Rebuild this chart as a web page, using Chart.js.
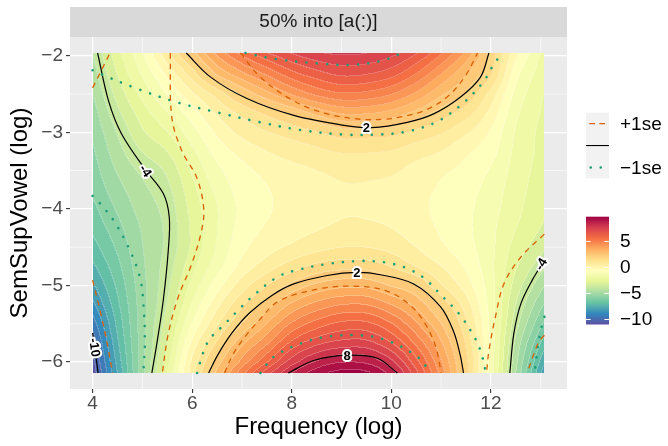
<!DOCTYPE html>
<html lang="en">
<head>
<meta charset="UTF-8">
<title>50% into [a(:)]</title>
<script src="https://cdn.jsdelivr.net/npm/chart.js@4.4.1/dist/chart.umd.min.js"></script>
<style>
  html, body { margin: 0; padding: 0; background: #fff; }
  #wrap { width: 668px; height: 446px; }
</style>
</head>
<body>
<div id="wrap"><canvas id="myChart" width="668" height="446"></canvas></div>
<script>
// ---- values ----
const xTicks = [4, 6, 8, 10, 12];
const yTicks = [-6, -5, -4, -3, -2];
const xMinor = [5, 7, 9, 11, 13];
const yMinor = [-5.5, -4.5, -3.5, -2.5];
const fillTicks = [5, 0, -5, -10];
const fillRange = [-11.06, 9.6];

// estimate surface, sampled on a grid (rows top -> bottom)
const gridX = [4, 4.5, 5, 5.5, 6, 6.5, 7, 7.5, 8, 8.5, 9, 9.5, 10, 10.5, 11, 11.5, 12, 12.5, 13.07];
const gridY = [-1.96, -2.25, -2.5, -2.75, -3, -3.25, -3.5, -3.75, -4, -4.25, -4.5, -4.75, -5, -5.25, -5.5, -5.75, -6, -6.14];
const zGrid = [
  [-4.3, -2.6, -1.2, 0.6, 2.4, 4.0, 5.3, 6.3, 7.0, 7.5, 7.7, 7.6, 7.2, 6.4, 5.2, 3.7, 1.8, -0.3, -2.0],
  [-4.6, -3.0, -1.7, -0.4, 1.0, 2.6, 3.6, 4.5, 5.4, 6.0, 6.4, 6.3, 5.9, 5.0, 3.8, 2.6, 1.4, -0.9, -2.2],
  [-4.9, -3.4, -2.2, -1.1, 0.0, 1.0, 2.1, 3.0, 3.9, 4.6, 5.0, 4.9, 4.5, 3.7, 2.7, 1.9, 0.5, -1.3, -2.4],
  [-5.2, -3.8, -2.7, -1.8, -0.8, 0.2, 0.9, 1.5, 2.1, 2.8, 3.3, 3.3, 3.0, 2.4, 1.7, 1.0, -0.1, -1.6, -2.5],
  [-5.4, -4.2, -3.1, -2.4, -1.4, -0.4, 0.3, 0.7, 1.0, 1.3, 1.7, 1.7, 1.6, 1.2, 0.8, 0.2, -0.6, -1.8, -2.6],
  [-5.6, -4.5, -3.6, -3.0, -1.9, -0.9, -0.3, 0.1, 0.4, 0.6, 0.8, 0.8, 0.7, 0.4, 0.1, -0.4, -0.9, -1.9, -2.6],
  [-5.8, -4.8, -4.1, -3.5, -2.3, -1.3, -0.7, -0.35, -0.1, 0.1, 0.25, 0.25, 0.2, -0.1, -0.4, -0.7, -1.2, -2.0, -2.7],
  [-6.0, -5.1, -4.4, -3.8, -2.6, -1.6, -0.9, -0.55, -0.3, -0.1, 0.05, 0.05, -0.05, -0.3, -0.6, -0.9, -1.4, -2.1, -2.8],
  [-6.3, -5.4, -4.6, -4.0, -2.8, -1.8, -1.0, -0.6, -0.3, -0.1, 0.05, 0.05, -0.05, -0.3, -0.7, -1.0, -1.5, -2.2, -2.9],
  [-6.6, -5.7, -4.8, -4.1, -2.9, -1.8, -0.9, -0.45, -0.15, 0.05, 0.2, 0.2, 0.1, -0.2, -0.6, -1.0, -1.6, -2.35, -3.1],
  [-7.0, -6.0, -4.9, -4.1, -2.9, -1.7, -0.7, -0.15, 0.2, 0.5, 0.7, 0.7, 0.5, 0.1, -0.4, -0.9, -1.6, -2.6, -3.5],
  [-7.5, -6.3, -5.0, -3.95, -2.6, -1.4, -0.3, 0.4, 1.0, 1.5, 1.7, 1.7, 1.3, 0.7, 0.1, -0.6, -1.6, -2.9, -4.1],
  [-8.1, -6.6, -5.1, -3.8, -2.2, -0.8, 0.4, 1.3, 2.1, 2.7, 3.0, 3.0, 2.5, 2.0, 0.8, -0.2, -1.5, -3.25, -4.8],
  [-8.8, -6.9, -5.15, -3.6, -1.7, -0.1, 1.2, 2.2, 3.3, 4.0, 4.4, 4.4, 3.8, 3.0, 1.8, 0.4, -1.4, -3.6, -5.5],
  [-9.6, -7.2, -5.15, -3.3, -1.1, 0.6, 1.95, 3.2, 4.5, 5.3, 5.8, 5.8, 5.1, 3.9, 2.6, 0.9, -1.3, -3.95, -6.2],
  [-10.3, -7.5, -5.15, -3.0, -0.4, 1.4, 3.0, 4.3, 5.8, 6.7, 7.1, 7.1, 6.3, 4.9, 3.3, 1.3, -1.3, -4.35, -7.0],
  [-10.7, -7.8, -5.1, -2.7, 0.2, 2.2, 4.0, 5.6, 7.2, 8.2, 8.7, 8.6, 7.7, 5.9, 3.9, 1.6, -1.35, -4.65, -7.8],
  [-10.9, -8.0, -5.1, -2.4, 0.4, 2.7, 4.8, 6.6, 8.1, 9.1, 9.6, 9.5, 8.5, 6.5, 4.2, 1.7, -1.4, -4.8, -8.3]
];

// contour lines of the estimate (solid black)
const estTop2 = [[5.88,-1.965],[6.37,-2.28],[7.10,-2.56],[8.04,-2.78],[9.05,-2.91],[9.6,-2.94],[10.32,-2.87],[10.85,-2.76],[11.39,-2.54],[11.79,-2.28],[11.96,-1.965]];
const estBottom2 = [[6.33,-6.143],[6.52,-5.9],[6.8,-5.62],[7.15,-5.36],[7.6,-5.13],[8.04,-4.98],[8.71,-4.87],[9.31,-4.83],[9.78,-4.86],[10.45,-4.98],[10.99,-5.28],[11.25,-5.6],[11.38,-5.9],[11.45,-6.143]];
const estBottom8 = [[7.93,-6.143],[8.44,-5.98],[9.11,-5.91],[9.72,-5.95],[10.12,-6.143]];
const estLeftM4 = [[4.10,-1.965],[4.32,-2.59],[4.58,-3.02],[5.05,-3.48],[5.42,-3.80],[5.54,-4.11],[5.52,-4.54],[5.42,-5.19],[5.29,-5.76],[5.19,-6.143]];
const estRightM4 = [[12.38,-6.143],[12.46,-5.63],[12.60,-5.24],[12.83,-4.93],[13.074,-4.67]];
const estLeftM10 = [[4.0,-5.62],[4.05,-5.85],[4.11,-6.143]];

// +1se contours (dashed orange)
const loTop2 = [[6.97,-1.965],[7.37,-2.28],[8.04,-2.59],[8.71,-2.76],[9.38,-2.83],[9.88,-2.83],[10.18,-2.80],[10.65,-2.72],[11.12,-2.54],[11.49,-2.26],[11.73,-1.965]];
const loBottom2 = [[6.65,-6.143],[6.82,-5.9],[7.05,-5.68],[7.35,-5.45],[7.75,-5.2],[8.58,-5.04],[9.25,-5.01],[9.9,-5.07],[10.38,-5.26],[10.68,-5.50],[10.9,-5.82],[11.0,-6.143]];
const loLeftM4 = [[5.56,-1.965],[5.59,-2.80],[5.79,-3.24],[6.09,-3.59],[6.23,-3.98],[6.19,-4.28],[5.99,-4.72],[5.72,-5.15],[5.52,-5.63],[5.40,-6.143]];
const loRightM4 = [[13.074,-4.33],[12.6,-4.63],[12.26,-4.98],[12.09,-5.41],[11.96,-5.85],[11.91,-6.143]];
const loTopLeftM10 = [[4.0,-2.42],[4.17,-2.2],[4.35,-1.965]];
const loBottomLeftM10 = [[4.0,-4.93],[4.18,-5.41],[4.32,-5.85],[4.4,-6.143]];
const loRightM10 = [[13.074,-5.65],[12.96,-5.74],[12.86,-5.9],[12.73,-6.143]];

// -1se contours (dotted green)
const upTop2 = [[4.0,-2.19],[4.09,-2.22],[4.89,-2.43],[5.70,-2.61],[6.50,-2.74],[7.37,-2.87],[8.17,-2.97],[9.05,-3.03],[9.72,-3.03],[10.32,-2.99],[10.92,-2.86],[11.46,-2.61],[11.86,-2.33],[12.06,-2.11],[12.23,-1.965]];
const upTop8 = [[7.07,-1.965],[7.64,-2.04],[8.51,-2.10],[9.18,-2.12],[9.78,-2.07],[10.22,-1.965]];
const upBottom2 = [[6.10,-6.143],[6.16,-6.0],[6.33,-5.72],[6.66,-5.50],[6.96,-5.30],[7.25,-5.12],[7.71,-4.89],[8.1,-4.80],[8.71,-4.72],[9.38,-4.68],[9.88,-4.70],[10.29,-4.77],[10.65,-4.90],[11.02,-5.14],[11.36,-5.37],[11.63,-5.63],[11.79,-5.85],[11.9,-6.143]];
const upBottom8 = [[7.37,-6.143],[7.64,-5.93],[8.17,-5.76],[8.71,-5.67],[9.38,-5.65],[9.92,-5.72],[10.52,-5.93],[10.79,-6.143]];
const upLeftM4 = [[4.0,-3.83],[4.15,-3.93],[4.42,-4.15],[4.72,-4.50],[4.95,-4.89],[5.02,-5.24],[5.05,-5.72],[5.02,-6.143]];
const upRightM4 = [[13.074,-5.41],[13.0,-5.59],[12.93,-5.85],[12.88,-6.143]];

// contour labels: x, y, text, angle (deg)
const contourLabels = [
  [9.5, -2.94, '2', 0],
  [9.31, -4.83, '2', 0],
  [9.11, -5.91, '8', 0],
  [5.07, -3.5, '-4', 56],
  [4.05, -5.81, '-10', 82],
  [13.0, -4.72, '-4', -59]
];

const legendLabels = ['+1se', '', '\u22121se'];

// ---- styling ----
const FONT = '"Liberation Sans", Arial, Helvetica, sans-serif';
Chart.defaults.font.family = FONT;
const spectral = ['#5E4FA2','#3288BD','#66C2A5','#ABDDA4','#E6F598','#FFFFBF','#FEE08B','#FDAE61','#F46D43','#D53E4F','#9E0142'];
const bandWidth = 0.62;
const orange = '#D95F02', green = '#1B9E77';

const spectralRGB = spectral.map(h => [parseInt(h.slice(1,3),16), parseInt(h.slice(3,5),16), parseInt(h.slice(5,7),16)]);
function colourAt(v) {
  let t = (v - fillRange[0]) / (fillRange[1] - fillRange[0]);
  t = Math.max(0, Math.min(1, t)) * (spectralRGB.length - 1);
  const k = Math.min(Math.floor(t), spectralRGB.length - 2), f = t - k;
  const a = spectralRGB[k], b = spectralRGB[k + 1];
  return [a[0] + (b[0] - a[0]) * f, a[1] + (b[1] - a[1]) * f, a[2] + (b[2] - a[2]) * f];
}

function fracIndex(arr, v) {
  const n = arr.length;
  for (let k = 0; k < n - 1; k++) {
    const a = arr[k], b = arr[k + 1];
    if ((v - a) * (v - b) <= 0) return k + (v - a) / (b - a);
  }
  return Math.abs(v - arr[0]) < Math.abs(v - arr[n - 1]) ? 0 : n - 1;
}

function cr(p0, p1, p2, p3, t) {
  return p1 + 0.5 * t * (p2 - p0 + t * (2 * p0 - 5 * p1 + 4 * p2 - p3 + t * (3 * (p1 - p2) + p3 - p0)));
}
function pick(list, k) {
  const n = list.length;
  if (k < 0) return 2 * list[0] - list[1];
  if (k > n - 1) return 2 * list[n - 1] - list[n - 2];
  return list[k];
}
function zAt(fi, fj) {
  const i = Math.min(Math.floor(fi), gridX.length - 2), j = Math.min(Math.floor(fj), gridY.length - 2);
  const ti = fi - i, tj = fj - j;
  const col = [];
  for (let r = -1; r <= 2; r++) {
    let row;
    if (j + r < 0) row = zGrid[0].map((v, c) => 2 * v - zGrid[1][c]);
    else if (j + r > gridY.length - 1) row = zGrid[gridY.length - 1].map((v, c) => 2 * v - zGrid[gridY.length - 2][c]);
    else row = zGrid[j + r];
    col.push(cr(pick(row, i - 1), pick(row, i), pick(row, i + 1), pick(row, i + 2), ti));
  }
  return cr(col[0], col[1], col[2], col[3], tj);
}

const fmt = v => (v < 0 ? '\u2212' + Math.abs(v) : String(v));

const panelPlugin = {
  id: 'panel',
  beforeDraw(chart) {
    const {ctx, chartArea: a, scales: {x, y}} = chart;
    ctx.save();
    ctx.fillStyle = '#FFFFFF';
    ctx.fillRect(0, 0, chart.width, chart.height);
    ctx.fillStyle = '#EBEBEB';
    ctx.fillRect(a.left, a.top, a.right - a.left, a.bottom - a.top);
    ctx.strokeStyle = '#FFFFFF';
    ctx.lineWidth = 0.6;
    xMinor.forEach(v => {
      const p = x.getPixelForValue(v);
      ctx.beginPath(); ctx.moveTo(p, a.top); ctx.lineTo(p, a.bottom); ctx.stroke();
    });
    yMinor.forEach(v => {
      const p = y.getPixelForValue(v);
      ctx.beginPath(); ctx.moveTo(a.left, p); ctx.lineTo(a.right, p); ctx.stroke();
    });
    ctx.restore();
  },
  beforeDatasetsDraw(chart) {
    const {ctx, scales: {x, y}} = chart;
    const left = Math.round(x.getPixelForValue(gridX[0]));
    const right = Math.round(x.getPixelForValue(gridX[gridX.length - 1]));
    const top = Math.round(y.getPixelForValue(gridY[0]));
    const bottom = Math.round(y.getPixelForValue(gridY[gridY.length - 1]));
    const w = right - left, h = bottom - top;
    const bands = new Int16Array(w * h);
    const fis = [];
    for (let i = 0; i < w; i++) fis.push(fracIndex(gridX, x.getValueForPixel(left + i + 0.5)));
    for (let j = 0; j < h; j++) {
      const fj = fracIndex(gridY, y.getValueForPixel(top + j + 0.5));
      for (let i = 0; i < w; i++) {
        bands[j * w + i] = Math.floor((zAt(fis[i], fj) - fillRange[0]) / bandWidth);
      }
    }
    const off = document.createElement('canvas');
    off.width = w; off.height = h;
    const octx = off.getContext('2d');
    const img = octx.createImageData(w, h);
    for (let j = 0; j < h; j++) {
      for (let i = 0; i < w; i++) {
        const idx = j * w + i, b = bands[idx];
        const c = colourAt(fillRange[0] + (b + 0.5) * bandWidth);
        const seam = (i < w - 1 && bands[idx + 1] !== b) || (j < h - 1 && bands[idx + w] !== b);
        const m = seam ? 0.22 : 0;
        img.data[idx * 4] = c[0] + (255 - c[0]) * m;
        img.data[idx * 4 + 1] = c[1] + (255 - c[1]) * m;
        img.data[idx * 4 + 2] = c[2] + (255 - c[2]) * m;
        img.data[idx * 4 + 3] = 255;
      }
    }
    octx.putImageData(img, 0, 0);
    ctx.drawImage(off, left, top);
  },
  afterDatasetsDraw(chart) {
    const {ctx, scales: {x, y}} = chart;
    ctx.save();
    ctx.font = 'bold 13px ' + FONT;
    ctx.textAlign = 'center';
    ctx.textBaseline = 'middle';
    ctx.lineJoin = 'round';
    contourLabels.forEach(([vx, vy, t, ang]) => {
      ctx.save();
      ctx.translate(x.getPixelForValue(vx), y.getPixelForValue(vy));
      ctx.rotate(ang * Math.PI / 180);
      ctx.strokeStyle = '#FFFFFF';
      ctx.lineWidth = 4;
      ctx.strokeText(t, 0, 1);
      ctx.fillStyle = '#000000';
      ctx.fillText(t, 0, 1);
      ctx.restore();
    });
    ctx.restore();
  },
  afterDraw(chart) {
    const {ctx, chartArea: a} = chart;
    ctx.save();
    // strip
    ctx.fillStyle = '#D9D9D9';
    ctx.fillRect(a.left, a.top - 30, a.right - a.left, 30);
    ctx.fillStyle = '#1A1A1A';
    ctx.font = '19px ' + FONT;
    ctx.textAlign = 'center';
    ctx.textBaseline = 'middle';
    ctx.fillText('50% into [a(:)]', (a.left + a.right) / 2, a.top - 15);
    // axis titles
    ctx.fillStyle = '#000000';
    ctx.font = '24px ' + FONT;
    ctx.fillText('Frequency (log)', (a.left + a.right) / 2, 427);
    ctx.save();
    ctx.translate(20, (a.top + a.bottom) / 2);
    ctx.rotate(-Math.PI / 2);
    ctx.fillText('SemSupVowel (log)', 0, 0);
    ctx.restore();

    // line legend
    const kx = 586, kw = 23, ky = 112.7, kh = 21.9;
    ctx.fillStyle = '#F2F2F2';
    ctx.fillRect(kx, ky, kw, kh * 3);
    ctx.lineWidth = 1.3;
    ctx.strokeStyle = orange;
    ctx.setLineDash([5.7, 4.3]);
    ctx.lineDashOffset = 6.7;
    ctx.beginPath(); ctx.moveTo(kx, ky + kh * 0.5); ctx.lineTo(kx + kw, ky + kh * 0.5); ctx.stroke();
    ctx.setLineDash([]);
    ctx.strokeStyle = '#000000';
    ctx.lineWidth = 1.1;
    ctx.beginPath(); ctx.moveTo(kx, ky + kh * 1.5); ctx.lineTo(kx + kw, ky + kh * 1.5); ctx.stroke();
    ctx.strokeStyle = green;
    ctx.lineWidth = 2.6;
    ctx.lineCap = 'round';
    ctx.setLineDash([0.01, 10]);
    ctx.lineDashOffset = 5.3;
    ctx.beginPath(); ctx.moveTo(kx, ky + kh * 2.5); ctx.lineTo(kx + kw, ky + kh * 2.5); ctx.stroke();
    ctx.setLineDash([]);
    ctx.lineCap = 'butt';
    ctx.fillStyle = '#000000';
    ctx.font = '19px ' + FONT;
    ctx.textAlign = 'left';
    legendLabels.forEach((t, i) => ctx.fillText(t, 620, ky + kh * (i + 0.5) + 1));

    // colour bar
    const cTop = 216.7, cBot = 324.5;
    const cy = v => cTop + (fillRange[1] - v) / (fillRange[1] - fillRange[0]) * (cBot - cTop);
    const grad = ctx.createLinearGradient(0, cBot, 0, cTop);
    spectral.forEach((c, i) => grad.addColorStop(i / (spectral.length - 1), c));
    ctx.fillStyle = grad;
    ctx.fillRect(kx, cTop, kw, cBot - cTop);
    ctx.strokeStyle = '#FFFFFF';
    ctx.lineWidth = 1;
    fillTicks.forEach(v => {
      const p = Math.round(cy(v)) + 0.5;
      ctx.beginPath(); ctx.moveTo(kx, p); ctx.lineTo(kx + 4.6, p); ctx.stroke();
      ctx.beginPath(); ctx.moveTo(kx + kw - 4.6, p); ctx.lineTo(kx + kw, p); ctx.stroke();
    });
    ctx.fillStyle = '#000000';
    fillTicks.forEach(v => ctx.fillText(fmt(v), 620, cy(v) + 1));
    ctx.restore();
  }
};

function lineSet(pts, colour, width, dash, cap) {
  return {
    data: pts.map(p => ({x: p[0], y: p[1]})),
    showLine: true,
    borderColor: colour,
    borderWidth: width,
    borderDash: dash,
    borderCapStyle: cap,
    pointRadius: 0,
    pointHoverRadius: 0,
    tension: 0.35,
    fill: false
  };
}

const dashed = [5.5, 5.0], dotted = [0.01, 10.3];
const datasets = [
  ...[loTop2, loBottom2, loLeftM4, loRightM4, loTopLeftM10, loBottomLeftM10, loRightM10].map(p => lineSet(p, orange, 1.3, dashed, 'butt')),
  ...[upTop2, upTop8, upBottom2, upBottom8, upLeftM4, upRightM4].map(p => lineSet(p, green, 2.6, dotted, 'round')),
  ...[estTop2, estBottom2, estBottom8, estLeftM4, estRightM4, estLeftM10].map(p => lineSet(p, '#000000', 1.2, [], 'butt'))
];

const axisCommon = {
  type: 'linear',
  grid: {color: '#FFFFFF', lineWidth: 1.2, tickColor: '#333333', tickLength: 4, tickWidth: 1.1, drawTicks: true},
  border: {display: false},
  ticks: {color: '#4D4D4D', font: {size: 19}, autoSkip: false, maxRotation: 0, callback: v => fmt(v)}
};

new Chart(document.getElementById('myChart'), {
  type: 'scatter',
  data: {datasets},
  options: {
    responsive: false,
    animation: false,
    devicePixelRatio: 1,
    layout: {padding: {left: 0, top: 37, right: 101, bottom: 0}},
    plugins: {legend: {display: false}, tooltip: {enabled: false}},
    scales: {
      x: {
        ...axisCommon,
        min: 3.546, max: 13.528,
        ticks: {...axisCommon.ticks, padding: -1},
        afterBuildTicks: s => { s.ticks = xTicks.map(v => ({value: v})); },
        afterFit: s => { s.height = 57; }
      },
      y: {
        ...axisCommon,
        min: -6.352, max: -1.756,
        ticks: {...axisCommon.ticks, padding: 3},
        afterBuildTicks: s => { s.ticks = yTicks.map(v => ({value: v})); },
        afterFit: s => { s.width = 70; }
      }
    }
  },
  plugins: [panelPlugin]
});
</script>
</body>
</html>
